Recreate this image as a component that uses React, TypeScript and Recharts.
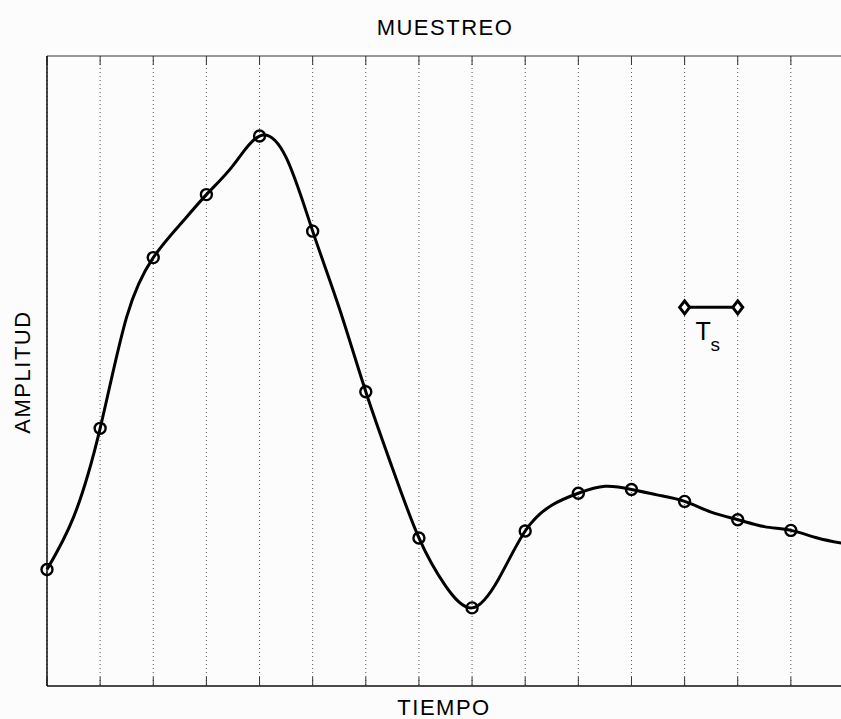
import { LineChart, Line, XAxis, YAxis, CartesianGrid } from 'recharts'

// continuous trace, read every half period
const tiempoTraza = [
  0, 0.5, 1, 1.5, 2, 2.5, 3, 3.5, 4, 4.5, 5, 5.5, 6, 6.5, 7, 7.5,
  8, 8.5, 9, 9.5, 10, 10.5, 11, 11.5, 12, 12.5, 13, 13.5, 14, 14.5, 15,
]
const amplitudTraza = [
  1.85, 2.68, 4.09, 5.86, 6.8, 7.32, 7.8, 8.26, 8.73, 8.39, 7.22, 6.0, 4.67, 3.46, 2.35, 1.59,
  1.24, 1.7, 2.46, 2.87, 3.06, 3.17, 3.12, 3.03, 2.93, 2.76, 2.64, 2.53, 2.47, 2.35, 2.26,
]

// samples, one per period Ts
const tiempoMuestras = [0, 1, 2, 3, 4, 5, 6, 7, 8, 9, 10, 11, 12, 13, 14]
const amplitudMuestras = [1.85, 4.09, 6.8, 7.8, 8.73, 7.22, 4.67, 2.35, 1.24, 2.46, 3.06, 3.12, 2.93, 2.64, 2.47]

// Ts bracket
const periodo = [12, 13]
const nivelPeriodo = 6.01

const ticksTiempo = [0, 1, 2, 3, 4, 5, 6, 7, 8, 9, 10, 11, 12, 13, 14, 15]

const FONT = '"Liberation Sans", Arial, Helvetica, sans-serif'

const traza = tiempoTraza.map((t, i) => ({ t, v: amplitudTraza[i] }))
const muestras = tiempoMuestras.map((t, i) => ({ t, v: amplitudMuestras[i] }))
const tramoTs = periodo.map((t) => ({ t, v: nivelPeriodo }))

const sinEtiqueta = (p: any) => <g key={`e${p.index}`} />

const renderMuestra = (p: any) => (
  <circle key={`m${p.index}`} cx={p.cx} cy={p.cy} r={5.5} fill="none" stroke="#000" strokeWidth={2.4} />
)

const renderRombo = (p: any) => {
  const { cx, cy, index } = p
  return (
    <g key={`r${index}`}>
      <polygon
        points={`${cx - 5},${cy} ${cx},${cy - 6.5} ${cx + 5},${cy} ${cx},${cy + 6.5}`}
        fill="#fff"
        stroke="#000"
        strokeWidth={3}
      />
      {index === 0 && (
        <text fontFamily={FONT} fill="#000">
          <tspan x={cx + 11} y={cy + 33} fontSize={25}>T</tspan>
          <tspan x={cx + 26} y={cy + 44} fontSize={19}>s</tspan>
        </text>
      )}
    </g>
  )
}

const textoBase = {
  position: 'absolute' as const,
  fontFamily: FONT,
  fontSize: 22,
  lineHeight: '22px',
  letterSpacing: 1.5,
  color: '#000',
  whiteSpace: 'nowrap' as const,
}

export default function App() {
  return (
    <div style={{ position: 'absolute', left: 0, top: 0, width: 841, height: 719, overflow: 'hidden', background: '#fcfcfc' }}>
      <LineChart width={850} height={719} data={traza} margin={{ top: 56, right: 6, bottom: 33, left: 46 }}>
        <CartesianGrid horizontal={false} stroke="#555" strokeDasharray="1 3" />
        <XAxis
          dataKey="t"
          type="number"
          domain={[0, 15]}
          ticks={ticksTiempo}
          interval={0}
          height={1}
          mirror
          tick={sinEtiqueta}
          tickSize={9}
          tickLine={{ stroke: '#333' }}
          axisLine={{ stroke: '#111', strokeWidth: 1.5 }}
        />
        <XAxis
          xAxisId="top"
          orientation="top"
          dataKey="t"
          type="number"
          domain={[0, 15]}
          ticks={ticksTiempo}
          interval={0}
          height={1}
          mirror
          tick={sinEtiqueta}
          tickSize={9}
          tickLine={{ stroke: '#333' }}
          axisLine={{ stroke: '#777', strokeWidth: 1.5 }}
        />
        <YAxis
          type="number"
          domain={[0, 10]}
          width={1}
          tick={sinEtiqueta}
          tickLine={false}
          axisLine={{ stroke: '#111', strokeWidth: 1.5 }}
        />
        <Line
          type="natural"
          dataKey="v"
          stroke="#000"
          strokeWidth={3}
          dot={false}
          activeDot={false}
          isAnimationActive={false}
        />
        <Line
          data={muestras}
          type="linear"
          dataKey="v"
          stroke="none"
          dot={renderMuestra}
          activeDot={false}
          isAnimationActive={false}
        />
        <Line
          data={tramoTs}
          type="linear"
          dataKey="v"
          stroke="#000"
          strokeWidth={3}
          dot={renderRombo}
          activeDot={false}
          isAnimationActive={false}
        />
      </LineChart>
      <div style={{ ...textoBase, left: 445, top: 17, transform: 'translateX(-50%)' }}>MUESTREO</div>
      <div style={{ ...textoBase, left: 444, top: 697, transform: 'translateX(-50%)' }}>TIEMPO</div>
      <div style={{ ...textoBase, left: 23, top: 372, transform: 'translate(-50%, -50%) rotate(-90deg)' }}>AMPLITUD</div>
    </div>
  )
}
